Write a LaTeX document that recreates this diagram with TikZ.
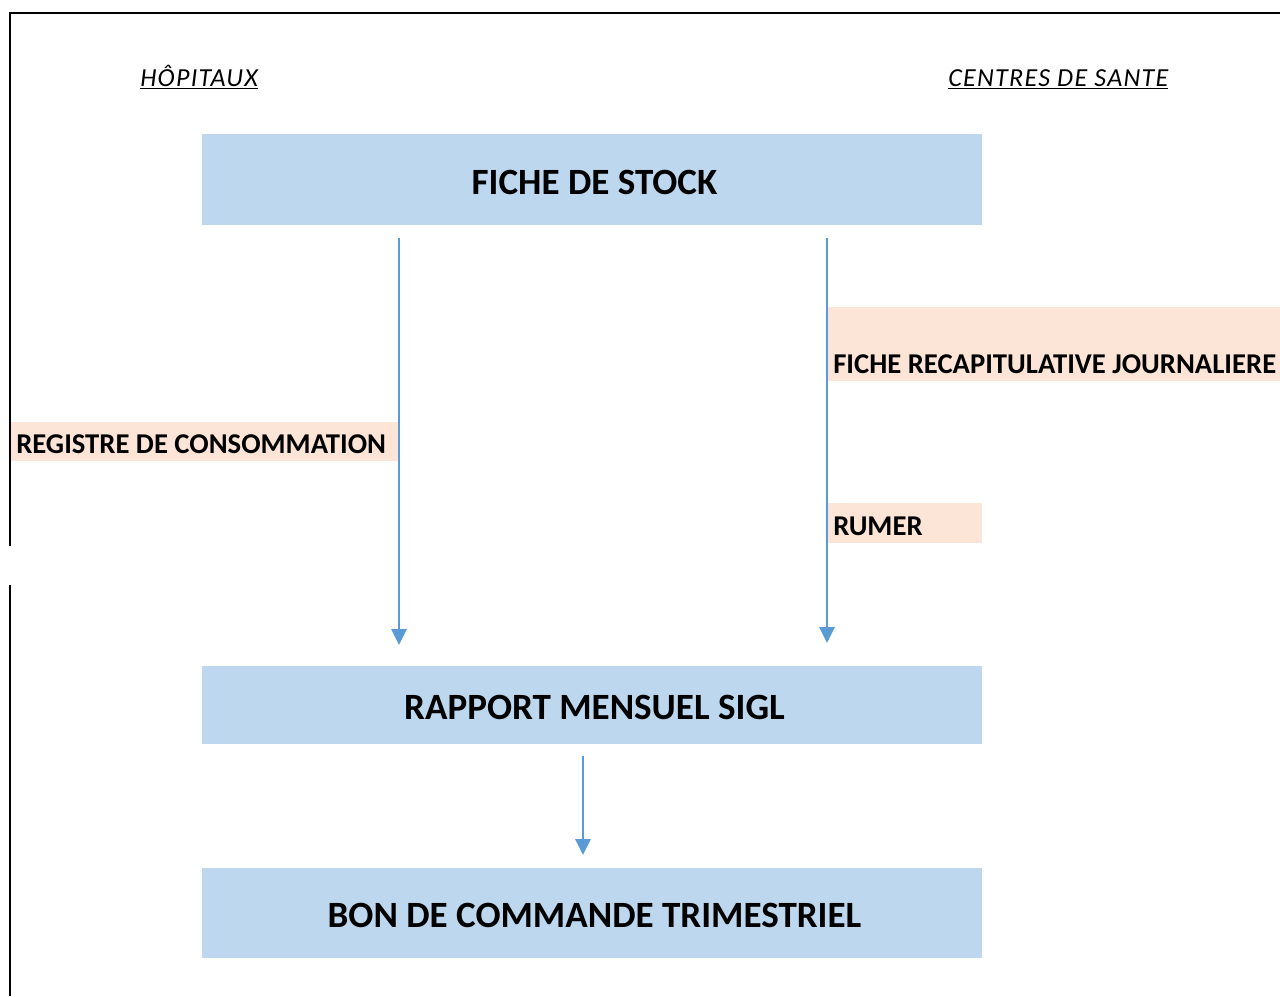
\documentclass[tikz,border=0pt]{standalone}
\usepackage{fontspec}
\setmainfont{Carlito}
\newfontfamily\spacedfont[LetterSpace=5]{Carlito}
\usetikzlibrary{arrows.meta}
\definecolor{boxblue}{HTML}{BDD7EE}
\definecolor{peach}{HTML}{FCE4D6}
\definecolor{arrowblue}{HTML}{5B9BD5}
\tikzset{
  bigbox/.style={fill=boxblue, draw=none, inner sep=0pt, minimum width=585pt},
  title/.style={inner sep=0pt, font=\fontsize{27.8}{32}\selectfont\bfseries},
  peachbox/.style={fill=peach, draw=none, inner sep=0pt, anchor=north west},
  lbl/.style={inner sep=0pt, anchor=base west, font=\fontsize{21.5}{24}\selectfont\bfseries},
  hdr/.style={inner sep=0pt, anchor=base west, font=\fontsize{19.5}{22}\spacedfont\itshape},
  flow/.style={draw=arrowblue, line width=1.4pt, -{Triangle[width=11.5pt,length=12pt]}},
  frame/.style={draw=black, line width=1.6pt}
}
\begin{document}
\begin{tikzpicture}[x=0.75pt,y=-0.75pt]
\useasboundingbox (0,0) rectangle (1280,996);
% frame
\coordinate (tr) at (1280,13);
\coordinate (tl) at (10,13);
\coordinate (gapa) at (10,546);
\coordinate (gapb) at (10,585);
\coordinate (bl) at (10,996);
\draw[frame] (tr) -- (tl) -- (gapa);
\draw[frame] (gapb) -- (bl);
% headers
\node[hdr] (hop) at (140,86) {\underline{HÔPITAUX}};
\node[hdr] (cds) at (948,86) {\underline{CENTRES DE SANTE}};
% main boxes
\node[bigbox, minimum height=68.25pt] (stock) at (592,179.5) {};
\node[title] (stockt) at (594.5,182) {FICHE DE STOCK};
\node[bigbox, minimum height=58.5pt] (rapport) at (592,705) {};
\node[title] (rapportt) at (594.5,707) {RAPPORT MENSUEL SIGL};
\node[bigbox, minimum height=67.5pt] (bon) at (592,913) {};
\node[title] (bont) at (594.5,915) {BON DE COMMANDE TRIMESTRIEL};
% peach labels
\node[peachbox, minimum width=339pt, minimum height=55.5pt] (frjbox) at (828,307) {};
\node[lbl] (frj) at (833,373) {FICHE RECAPITULATIVE JOURNALIERE};
\node[peachbox, minimum width=290.25pt, minimum height=29.25pt] (regbox) at (11,422) {};
\node[lbl] (reg) at (16,453) {REGISTRE DE CONSOMMATION};
\node[peachbox, minimum width=115.5pt, minimum height=30pt] (rumbox) at (828,503) {};
\node[lbl] (rum) at (833,535) {RUMER};
% arrows
\coordinate (la) at (399,238);
\coordinate (lb) at (399,645);
\coordinate (ra) at (827,238);
\coordinate (rb) at (827,643);
\coordinate (ma) at (583,756);
\coordinate (mb) at (583,855);
\draw[flow] (la) -- (lb);
\draw[flow] (ra) -- (rb);
\draw[flow] (ma) -- (mb);
\end{tikzpicture}
\end{document}
